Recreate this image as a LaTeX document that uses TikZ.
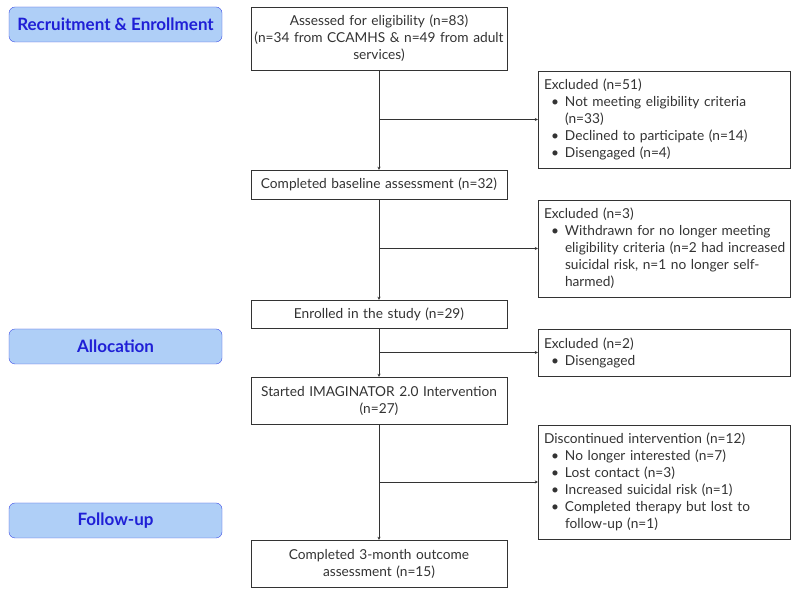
\documentclass[tikz,border=0pt]{standalone}
\usepackage{fontspec}
\setmainfont{Lato}
\usetikzlibrary{arrows.meta}

\definecolor{phasefill}{HTML}{AFCFF7}
\definecolor{phaseline}{HTML}{3D4DE6}
\definecolor{phasetext}{HTML}{1F1FD6}
\definecolor{inkgray}{HTML}{333333}

\newcommand{\bul}[1]{\par\noindent\hspace*{7pt}\makebox[14pt][l]{\textbullet}\mbox{#1}}
\newcommand{\cont}[1]{\par\noindent\hspace*{21pt}\mbox{#1}}

\tikzset{
  phase/.style={draw=phaseline, fill=phasefill, text=phasetext, rounded corners=6pt,
    minimum width=213pt, minimum height=35pt, inner sep=0pt,
    font=\fontsize{17}{20}\selectfont\bfseries},
  mainbox/.style={draw=inkgray, text=inkgray, minimum width=256pt, inner sep=0pt,
    text width=252pt, align=center, font=\fontsize{13.7}{17}\selectfont},
  exbox/.style={draw=inkgray, text=inkgray, minimum width=252pt, inner sep=0pt,
    text width=240pt, align=left, font=\fontsize{13.7}{17}\selectfont},
  flow/.style={draw=inkgray, line width=0.8pt, -{Stealth[length=3pt,width=3pt]}}
}

\begin{document}
\begin{tikzpicture}[x=1pt, y=1pt]
  \useasboundingbox[fill=white] (0,0) rectangle (800,593);

  % phase labels
  \node[phase] (recr) at (115.5,568.5) {Recruitment \& Enrollment};
  \node[phase] (alloc) at (115.5,246.5) {Allocation};
  \node[phase] (follow) at (115.5,72.5) {Follow-up};

  % main flow
  \node[mainbox, minimum height=63pt] (assess) at (379,554.5)
    {Assessed for eligibility (n=83)\\(n=34 from CCAMHS \& n=49 from adult\\services)};
  \node[mainbox, minimum height=29pt] (baseline) at (379,408.5)
    {Completed baseline assessment (n=32)};
  \node[mainbox, minimum height=28pt] (enrol) at (379,279)
    {Enrolled in the study (n=29)};
  \node[mainbox, minimum height=47pt] (started) at (379,192.5)
    {Started IMAGINATOR 2.0 Intervention\\(n=27)};
  \node[mainbox, minimum height=47pt] (outcome) at (379,29.5)
    {Completed 3-month outcome\\assessment (n=15)};

  % exclusions
  \node[exbox, minimum height=97pt] (excl1) at (664,473.5)
    {Excluded (n=51)
     \bul{Not meeting eligibility criteria}
     \cont{(n=33)}
     \bul{Declined to participate (n=14)}
     \bul{Disengaged (n=4)}};
  \node[exbox, minimum height=97pt] (excl2) at (664,344.5)
    {Excluded (n=3)
     \bul{Withdrawn for no longer meeting}
     \cont{eligibility criteria (n=2 had increased}
     \cont{suicidal risk, n=1 no longer self-}
     \cont{harmed)}};
  \node[exbox, minimum height=47pt] (excl3) at (664,240.5)
    {Excluded (n=2)
     \bul{Disengaged}};
  \node[exbox, minimum height=114pt] (excl4) at (664,111)
    {Discontinued intervention (n=12)
     \bul{No longer interested (n=7)}
     \bul{Lost contact (n=3)}
     \bul{Increased suicidal risk (n=1)}
     \bul{Completed therapy but lost to}
     \cont{follow-up (n=1)}};

  % connectors
  \draw[flow] (assess) -- (baseline);
  \draw[flow] (baseline) -- (enrol);
  \draw[flow] (enrol) -- (started);
  \draw[flow] (started) -- (outcome);
  \draw[flow] (assess.south |- excl1.west) -- (excl1.west);
  \draw[flow] (baseline.south |- excl2.west) -- (excl2.west);
  \draw[flow] (enrol.south |- excl3.west) -- (excl3.west);
  \draw[flow] (started.south |- excl4.west) -- (excl4.west);
\end{tikzpicture}
\end{document}
